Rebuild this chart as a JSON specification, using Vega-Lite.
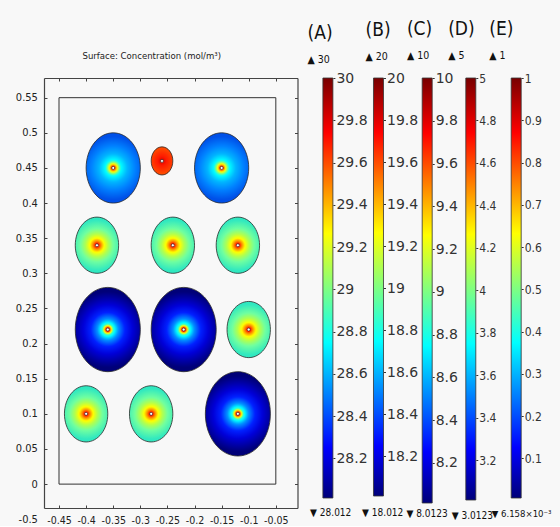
{
  "$schema": "https://vega.github.io/schema/vega-lite/v6.json",
  "background": "#f8f8f8",
  "padding": {"left": 15, "top": 19, "right": 9, "bottom": 0},
  "config": {"view": {"stroke": null}, "axis": {"grid": false}},
  "datasets": {
    "circles": [
      {"x": -0.35, "y": 0.45, "r": 0.05},
      {"x": -0.26, "y": 0.46, "r": 0.02},
      {"x": -0.15, "y": 0.45, "r": 0.05},
      {"x": -0.38, "y": 0.34, "r": 0.04},
      {"x": -0.24, "y": 0.34, "r": 0.04},
      {"x": -0.12, "y": 0.34, "r": 0.04},
      {"x": -0.36, "y": 0.22, "r": 0.06},
      {"x": -0.22, "y": 0.22, "r": 0.06},
      {"x": -0.10, "y": 0.22, "r": 0.04},
      {"x": -0.40, "y": 0.10, "r": 0.04},
      {"x": -0.28, "y": 0.10, "r": 0.04},
      {"x": -0.12, "y": 0.10, "r": 0.06}
    ],
    "boundary": [{"x0": -0.45, "x1": -0.05, "y0": 0, "y1": 0.55}],
    "bars": [
      {"bar": "A", "min": 28.012, "max": 30},
      {"bar": "B", "min": 18.012, "max": 20},
      {"bar": "C", "min": 8.0123, "max": 10},
      {"bar": "D", "min": 3.0123, "max": 5},
      {"bar": "E", "min": 0.006158, "max": 1}
    ]
  },
  "bounds": "flush",
  "spacing": 24.9,
  "hconcat": [
    {
      "width": 253.5,
      "height": 430,
      "title": {"text": "Surface: Concentration (mol/m³)", "font": "DejaVu Sans Condensed", "fontSize": 9.5, "fontWeight": "normal", "color": "#222", "anchor": "middle", "dx": -19, "offset": 17},
      "layer": [
        {
          "data": {"name": "boundary"},
          "mark": {"type": "rect", "filled": false, "stroke": "#333", "strokeWidth": 1},
          "encoding": {
            "x": {"field": "x0", "type": "quantitative", "scale": {"domain": [-0.4777, -0.01], "nice": false, "zero": false},
              "axis": {"orient": "bottom", "title": null, "values": [-0.45, -0.4, -0.35, -0.3, -0.25, -0.2, -0.15, -0.1, -0.05], "labelExpr": "'-' + format(-datum.value, '~g')", "domain": true, "domainColor": "#444", "domainWidth": 1.2, "tickSize": -3, "tickColor": "#444", "labelPadding": 10, "labelFont": "DejaVu Sans Condensed", "labelFontSize": 10.5, "labelColor": "#222", "labelFlush": false, "labelOverlap": false}},
            "x2": {"field": "x1"},
            "y": {"field": "y0", "type": "quantitative", "scale": {"domain": [-0.034, 0.578], "nice": false, "zero": false},
              "axis": {"orient": "left", "title": null, "values": [-0.034, 0, 0.05, 0.1, 0.15, 0.2, 0.25, 0.3, 0.35, 0.4, 0.45, 0.5, 0.55], "labelExpr": "datum.value < 0 ? '-0.5' : format(datum.value, '~g')", "labelOffset": {"condition": {"test": "datum.value < 0", "value": 11.5}, "value": 0}, "tickOpacity": {"condition": {"test": "datum.value < 0", "value": 0}, "value": 1}, "domain": true, "domainColor": "#444", "domainWidth": 1.2, "tickSize": -3, "tickColor": "#444", "labelPadding": 9.6, "labelFont": "DejaVu Sans Condensed", "labelFontSize": 11, "labelColor": "#222", "labelFlush": false, "labelOverlap": false}},
            "y2": {"field": "y1"}
          }
        },
        {
          "data": {"name": "circles"},
          "transform": [{"filter": {"field": "r", "equal": 0.06}}],
          "mark": {"type": "point", "shape": "M -0.7714 0 A 0.7714 1 0 1 1 0.7714 0 A 0.7714 1 0 1 1 -0.7714 0 Z", "filled": true, "opacity": 1, "stroke": "#2a2a2a", "strokeWidth": 0.8,
            "fill": {"gradient": "radial", "x1": 0.5, "y1": 0.5, "r1": 0, "x2": 0.5, "y2": 0.5, "r2": 0.45, "stops": [
              {"offset": 0, "color": "#6a0000"}, {"offset": 0.03, "color": "#cc0000"}, {"offset": 0.05, "color": "#ff2000"}, {"offset": 0.08, "color": "#ffb000"}, {"offset": 0.1, "color": "#ffff00"}, {"offset": 0.14, "color": "#40ffc0"}, {"offset": 0.18, "color": "#00ffff"}, {"offset": 0.28, "color": "#0090ff"}, {"offset": 0.45, "color": "#0020ff"}, {"offset": 0.65, "color": "#0000d8"}, {"offset": 0.85, "color": "#0000a0"}, {"offset": 1, "color": "#000078"}]}},
          "encoding": {
            "x": {"field": "x", "type": "quantitative", "axis": {"orient": "top", "title": null, "labels": false, "values": [-0.45, -0.4, -0.35, -0.3, -0.25, -0.2, -0.15, -0.1, -0.05], "domain": true, "domainColor": "#444", "domainWidth": 1.2, "tickSize": -3, "tickColor": "#444"}},
            "y": {"field": "y", "type": "quantitative", "axis": {"orient": "right", "title": null, "labels": false, "values": [0, 0.05, 0.1, 0.15, 0.2, 0.25, 0.3, 0.35, 0.4, 0.45, 0.5, 0.55], "domain": true, "domainColor": "#444", "domainWidth": 1.2, "tickSize": -3, "tickColor": "#444"}},
            "size": {"field": "r", "type": "quantitative", "scale": {"type": "pow", "exponent": 2, "domain": [0, 0.1], "range": [0, 19746]}, "legend": null}
          }
        },
        {
          "data": {"name": "circles"},
          "transform": [{"filter": {"field": "r", "equal": 0.05}}],
          "mark": {"type": "point", "shape": "M -0.7714 0 A 0.7714 1 0 1 1 0.7714 0 A 0.7714 1 0 1 1 -0.7714 0 Z", "filled": true, "opacity": 1, "stroke": "#2a2a2a", "strokeWidth": 0.8,
            "fill": {"gradient": "radial", "x1": 0.5, "y1": 0.5, "r1": 0, "x2": 0.5, "y2": 0.5, "r2": 0.45, "stops": [
              {"offset": 0, "color": "#700000"}, {"offset": 0.03, "color": "#e00000"}, {"offset": 0.06, "color": "#ff4000"}, {"offset": 0.1, "color": "#ffc000"}, {"offset": 0.13, "color": "#ffff00"}, {"offset": 0.18, "color": "#80ff80"}, {"offset": 0.25, "color": "#00ffff"}, {"offset": 0.45, "color": "#00b4ff"}, {"offset": 0.7, "color": "#0080ff"}, {"offset": 1, "color": "#0050e8"}]}},
          "encoding": {
            "x": {"field": "x", "type": "quantitative", "axis": null},
            "y": {"field": "y", "type": "quantitative", "axis": null},
            "size": {"field": "r", "type": "quantitative", "legend": null}
          }
        },
        {
          "data": {"name": "circles"},
          "transform": [{"filter": {"field": "r", "equal": 0.04}}],
          "mark": {"type": "point", "shape": "M -0.7714 0 A 0.7714 1 0 1 1 0.7714 0 A 0.7714 1 0 1 1 -0.7714 0 Z", "filled": true, "opacity": 1, "stroke": "#2a2a2a", "strokeWidth": 0.8,
            "fill": {"gradient": "radial", "x1": 0.5, "y1": 0.5, "r1": 0, "x2": 0.5, "y2": 0.5, "r2": 0.45, "stops": [
              {"offset": 0, "color": "#800000"}, {"offset": 0.05, "color": "#ff0000"}, {"offset": 0.15, "color": "#ff8000"}, {"offset": 0.28, "color": "#ffff00"}, {"offset": 0.45, "color": "#b0ff50"}, {"offset": 0.65, "color": "#70ffa0"}, {"offset": 1, "color": "#30e8c0"}]}},
          "encoding": {
            "x": {"field": "x", "type": "quantitative", "axis": null},
            "y": {"field": "y", "type": "quantitative", "axis": null},
            "size": {"field": "r", "type": "quantitative", "legend": null}
          }
        },
        {
          "data": {"name": "circles"},
          "transform": [{"filter": {"field": "r", "equal": 0.02}}],
          "mark": {"type": "point", "shape": "M -0.7714 0 A 0.7714 1 0 1 1 0.7714 0 A 0.7714 1 0 1 1 -0.7714 0 Z", "filled": true, "opacity": 1, "stroke": "#2a2a2a", "strokeWidth": 0.8,
            "fill": {"gradient": "radial", "x1": 0.5, "y1": 0.5, "r1": 0, "x2": 0.5, "y2": 0.5, "r2": 0.45, "stops": [
              {"offset": 0, "color": "#d00000"}, {"offset": 0.35, "color": "#ff1a00"}, {"offset": 1, "color": "#ff4a00"}]}},
          "encoding": {
            "x": {"field": "x", "type": "quantitative", "axis": null},
            "y": {"field": "y", "type": "quantitative", "axis": null},
            "size": {"field": "r", "type": "quantitative", "legend": null}
          }
        },
        {
          "data": {"name": "circles"},
          "mark": {"type": "point", "shape": "circle", "filled": true, "opacity": 1, "fill": "#ffffff", "stroke": "#222", "strokeWidth": 0.6, "size": 9},
          "encoding": {
            "x": {"field": "x", "type": "quantitative", "axis": null},
            "y": {"field": "y", "type": "quantitative", "axis": null}
          }
        }
      ],
      "resolve": {"axis": {"x": "independent", "y": "independent"}}
    },
    {
      "bounds": "flush",
      "spacing": 33.3,
      "hconcat": [
        {
          "width": 10, "height": 420,
          "data": {"name": "bars"},
          "transform": [{"filter": {"field": "bar", "equal": "A"}}],
          "title": {"text": "(A)", "subtitle": "▲ 30", "anchor": "start", "dx": -2, "font": "DejaVu Sans Condensed", "fontSize": 19, "fontWeight": "normal", "color": "#111", "subtitleFont": "DejaVu Sans Condensed", "subtitleFontSize": 10.5, "subtitleColor": "#111", "subtitlePadding": 12, "offset": 6},
          "mark": {"type": "rect", "stroke": "#333", "strokeWidth": 0.8, "fill": {"gradient": "linear", "x1": 0, "y1": 1, "x2": 0, "y2": 0, "stops": [{"offset": 0, "color": "#00007a"}, {"offset": 0.12, "color": "#0000ff"}, {"offset": 0.37, "color": "#00ffff"}, {"offset": 0.5, "color": "#80ff80"}, {"offset": 0.63, "color": "#ffff00"}, {"offset": 0.87, "color": "#ff0000"}, {"offset": 1, "color": "#780000"}]}},
          "encoding": {
            "x": {"field": "bar", "type": "nominal", "scale": {"paddingInner": 0, "paddingOuter": 0, "align": 1}, "axis": {"title": "▼ 28.012", "labels": false, "ticks": false, "domain": false, "titleX": 7.3, "titleFont": "DejaVu Sans Condensed", "titleFontSize": 10, "titleFontWeight": "normal", "titleColor": "#111", "titlePadding": 9}},
            "y": {"field": "min", "type": "quantitative", "scale": {"domain": [28.012, 30], "nice": false, "zero": false}, "axis": {"orient": "right", "title": null, "values": [28.2, 28.4, 28.6, 28.8, 29, 29.2, 29.4, 29.6, 29.8, 30], "format": "~g", "domain": false, "tickSize": 2, "tickColor": "#333", "labelPadding": 1, "labelFont": "DejaVu Sans", "labelFontSize": 14, "labelColor": "#333", "labelOverlap": false}},
            "y2": {"field": "max"}
          }
        },
        {
          "width": 17.3, "height": 418,
          "data": {"name": "bars"},
          "transform": [{"filter": {"field": "bar", "equal": "B"}}],
          "title": {"text": "(B)", "subtitle": "▲ 20", "anchor": "start", "dx": 4, "font": "DejaVu Sans Condensed", "fontSize": 19, "fontWeight": "normal", "color": "#111", "subtitleFont": "DejaVu Sans Condensed", "subtitleFontSize": 10.5, "subtitleColor": "#111", "subtitlePadding": 12, "offset": 9},
          "mark": {"type": "rect", "stroke": "#333", "strokeWidth": 0.8, "fill": {"gradient": "linear", "x1": 0, "y1": 1, "x2": 0, "y2": 0, "stops": [{"offset": 0, "color": "#00007a"}, {"offset": 0.12, "color": "#0000ff"}, {"offset": 0.37, "color": "#00ffff"}, {"offset": 0.5, "color": "#80ff80"}, {"offset": 0.63, "color": "#ffff00"}, {"offset": 0.87, "color": "#ff0000"}, {"offset": 1, "color": "#780000"}]}},
          "encoding": {
            "x": {"field": "bar", "type": "nominal", "scale": {"paddingInner": 0, "paddingOuter": 0.365, "align": 1}, "axis": {"title": "▼ 18.012", "labels": false, "ticks": false, "domain": false, "titleX": 16, "titleFont": "DejaVu Sans Condensed", "titleFontSize": 10, "titleFontWeight": "normal", "titleColor": "#111", "titlePadding": 11}},
            "y": {"field": "min", "type": "quantitative", "scale": {"domain": [18.012, 20], "nice": false, "zero": false}, "axis": {"orient": "right", "title": null, "values": [18.2, 18.4, 18.6, 18.8, 19, 19.2, 19.4, 19.6, 19.8, 20], "format": "~g", "domain": false, "tickSize": 2, "tickColor": "#333", "labelPadding": 1, "labelFont": "DejaVu Sans", "labelFontSize": 14, "labelColor": "#333", "labelOverlap": false}},
            "y2": {"field": "max"}
          }
        },
        {
          "width": 14.7, "height": 425,
          "data": {"name": "bars"},
          "transform": [{"filter": {"field": "bar", "equal": "C"}}],
          "title": {"text": "(C)", "subtitle": "▲ 10", "anchor": "start", "dx": 1, "font": "DejaVu Sans Condensed", "fontSize": 19, "fontWeight": "normal", "color": "#111", "subtitleFont": "DejaVu Sans Condensed", "subtitleFontSize": 10.5, "subtitleColor": "#111", "subtitlePadding": 12, "offset": 10},
          "mark": {"type": "rect", "stroke": "#333", "strokeWidth": 0.8, "fill": {"gradient": "linear", "x1": 0, "y1": 1, "x2": 0, "y2": 0, "stops": [{"offset": 0, "color": "#00007a"}, {"offset": 0.12, "color": "#0000ff"}, {"offset": 0.37, "color": "#00ffff"}, {"offset": 0.5, "color": "#80ff80"}, {"offset": 0.63, "color": "#ffff00"}, {"offset": 0.87, "color": "#ff0000"}, {"offset": 1, "color": "#780000"}]}},
          "encoding": {
            "x": {"field": "bar", "type": "nominal", "scale": {"paddingInner": 0, "paddingOuter": 0.235, "align": 1}, "axis": {"title": "▼ 8.0123", "labels": false, "ticks": false, "domain": false, "titleX": 9, "titleFont": "DejaVu Sans Condensed", "titleFontSize": 10, "titleFontWeight": "normal", "titleColor": "#111", "titlePadding": 5}},
            "y": {"field": "min", "type": "quantitative", "scale": {"domain": [8.0123, 10], "nice": false, "zero": false}, "axis": {"orient": "right", "title": null, "values": [8.2, 8.4, 8.6, 8.8, 9, 9.2, 9.4, 9.6, 9.8, 10], "format": "~g", "domain": false, "tickSize": 2, "tickColor": "#333", "labelPadding": 1, "labelFont": "DejaVu Sans", "labelFontSize": 14, "labelColor": "#333", "labelOverlap": false}},
            "y2": {"field": "max"}
          }
        },
        {
          "width": 10, "height": 422,
          "data": {"name": "bars"},
          "transform": [{"filter": {"field": "bar", "equal": "D"}}],
          "title": {"text": "(D)", "subtitle": "▲ 5", "anchor": "start", "dx": -3, "font": "DejaVu Sans Condensed", "fontSize": 19, "fontWeight": "normal", "color": "#111", "subtitleFont": "DejaVu Sans Condensed", "subtitleFontSize": 10.5, "subtitleColor": "#111", "subtitlePadding": 12, "offset": 11},
          "mark": {"type": "rect", "stroke": "#333", "strokeWidth": 0.8, "fill": {"gradient": "linear", "x1": 0, "y1": 1, "x2": 0, "y2": 0, "stops": [{"offset": 0, "color": "#00007a"}, {"offset": 0.12, "color": "#0000ff"}, {"offset": 0.37, "color": "#00ffff"}, {"offset": 0.5, "color": "#80ff80"}, {"offset": 0.63, "color": "#ffff00"}, {"offset": 0.87, "color": "#ff0000"}, {"offset": 1, "color": "#780000"}]}},
          "encoding": {
            "x": {"field": "bar", "type": "nominal", "scale": {"paddingInner": 0, "paddingOuter": 0, "align": 1}, "axis": {"title": "▼ 3.0123", "labels": false, "ticks": false, "domain": false, "titleX": 6, "titleFont": "DejaVu Sans Condensed", "titleFontSize": 10, "titleFontWeight": "normal", "titleColor": "#111", "titlePadding": 10}},
            "y": {"field": "min", "type": "quantitative", "scale": {"domain": [3.0123, 5], "nice": false, "zero": false}, "axis": {"orient": "right", "title": null, "values": [3.2, 3.4, 3.6, 3.8, 4, 4.2, 4.4, 4.6, 4.8, 5], "format": "~g", "domain": false, "tickSize": 2, "tickColor": "#333", "labelPadding": 1, "labelFont": "DejaVu Sans Condensed", "labelFontSize": 12, "labelColor": "#333", "labelOverlap": false}},
            "y2": {"field": "max"}
          }
        },
        {
          "width": 12.1, "height": 420,
          "data": {"name": "bars"},
          "transform": [{"filter": {"field": "bar", "equal": "E"}}],
          "title": {"text": "(E)", "subtitle": "▲ 1", "anchor": "start", "dx": -2, "font": "DejaVu Sans Condensed", "fontSize": 19, "fontWeight": "normal", "color": "#111", "subtitleFont": "DejaVu Sans Condensed", "subtitleFontSize": 10.5, "subtitleColor": "#111", "subtitlePadding": 12, "offset": 11},
          "mark": {"type": "rect", "stroke": "#333", "strokeWidth": 0.8, "fill": {"gradient": "linear", "x1": 0, "y1": 1, "x2": 0, "y2": 0, "stops": [{"offset": 0, "color": "#00007a"}, {"offset": 0.12, "color": "#0000ff"}, {"offset": 0.37, "color": "#00ffff"}, {"offset": 0.5, "color": "#80ff80"}, {"offset": 0.63, "color": "#ffff00"}, {"offset": 0.87, "color": "#ff0000"}, {"offset": 1, "color": "#780000"}]}},
          "encoding": {
            "x": {"field": "bar", "type": "nominal", "scale": {"paddingInner": 0, "paddingOuter": 0.105, "align": 1}, "axis": {"title": "▼ 6.158×10⁻³", "labels": false, "ticks": false, "domain": false, "titleX": 12, "titleFont": "DejaVu Sans Condensed", "titleFontSize": 9.5, "titleFontWeight": "normal", "titleColor": "#111", "titlePadding": 10}},
            "y": {"field": "min", "type": "quantitative", "scale": {"domain": [0.006158, 1], "nice": false, "zero": false}, "axis": {"orient": "right", "title": null, "values": [0.1, 0.2, 0.3, 0.4, 0.5, 0.6, 0.7, 0.8, 0.9, 1], "format": "~g", "domain": false, "tickSize": 2, "tickColor": "#333", "labelPadding": 1, "labelFont": "DejaVu Sans Condensed", "labelFontSize": 12, "labelColor": "#333", "labelOverlap": false}},
            "y2": {"field": "max"}
          }
        }
      ]
    }
  ]
}
